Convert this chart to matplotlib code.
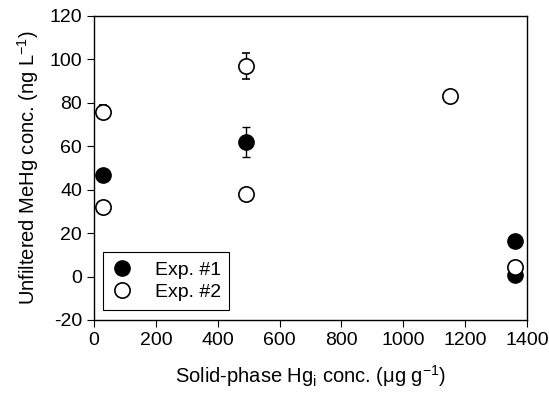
import matplotlib
matplotlib.use('Agg')
import matplotlib.pyplot as plt

plt.rcParams['font.family'] = ['Liberation Sans', 'DejaVu Sans']
plt.rcParams['axes.unicode_minus'] = False

# Exp. #1 (filled)
x1 = [30, 490, 1360, 1360]
y1 = [47, 62, 16.5, 0.5]
e1 = [0, 7, 0, 0]
# Exp. #2 (open)
x2 = [30, 30, 490, 490, 1150, 1360]
y2 = [76, 32, 97, 38, 83, 4.5]
e2 = [3, 0, 6, 0, 0, 0]

fig = plt.figure(figsize=(5.49, 3.94), dpi=100)
ax = fig.add_axes([94/549, 1-320/394, (527-94)/549, (320-16)/394])

ax.errorbar(x1, y1, yerr=e1, fmt='o', color='black', mfc='black', mec='black',
            ms=11, capsize=3, elinewidth=1, label='Exp. #1', zorder=3)
ax.errorbar(x2, y2, yerr=e2, fmt='o', color='black', mfc='white', mec='black',
            ms=11, mew=1.2, capsize=3, elinewidth=1, label='Exp. #2', zorder=3)

ax.set_xlim(0, 1400)
ax.set_ylim(-20, 120)
ax.set_xticks(range(0, 1401, 200))
ax.set_yticks(range(-20, 121, 20))
ax.tick_params(direction='out', length=5, labelsize=14, top=False, right=False)
for s in ax.spines.values():
    s.set_linewidth(1)

ax.set_xlabel(r'Solid-phase Hg$_\mathregular{i}$ conc. ($\mathregular{\mu}$g g$^\mathregular{-1}$)', fontsize=14.5, labelpad=10)
ax.set_ylabel(r'Unfiltered MeHg conc. (ng L$^\mathregular{-1}$)', fontsize=14.5, labelpad=6)

h, l = ax.get_legend_handles_labels()
h = [x[0] for x in h]
leg = ax.legend(h, l, loc='lower left', bbox_to_anchor=(0.021, 0.033), borderaxespad=0,
                fontsize=14, fancybox=False, edgecolor='black', framealpha=1,
                handletextpad=1.2, borderpad=0.45, labelspacing=0.25, handlelength=1.0)
leg.get_frame().set_linewidth(0.8)

fig.savefig('out.png', dpi=100)
